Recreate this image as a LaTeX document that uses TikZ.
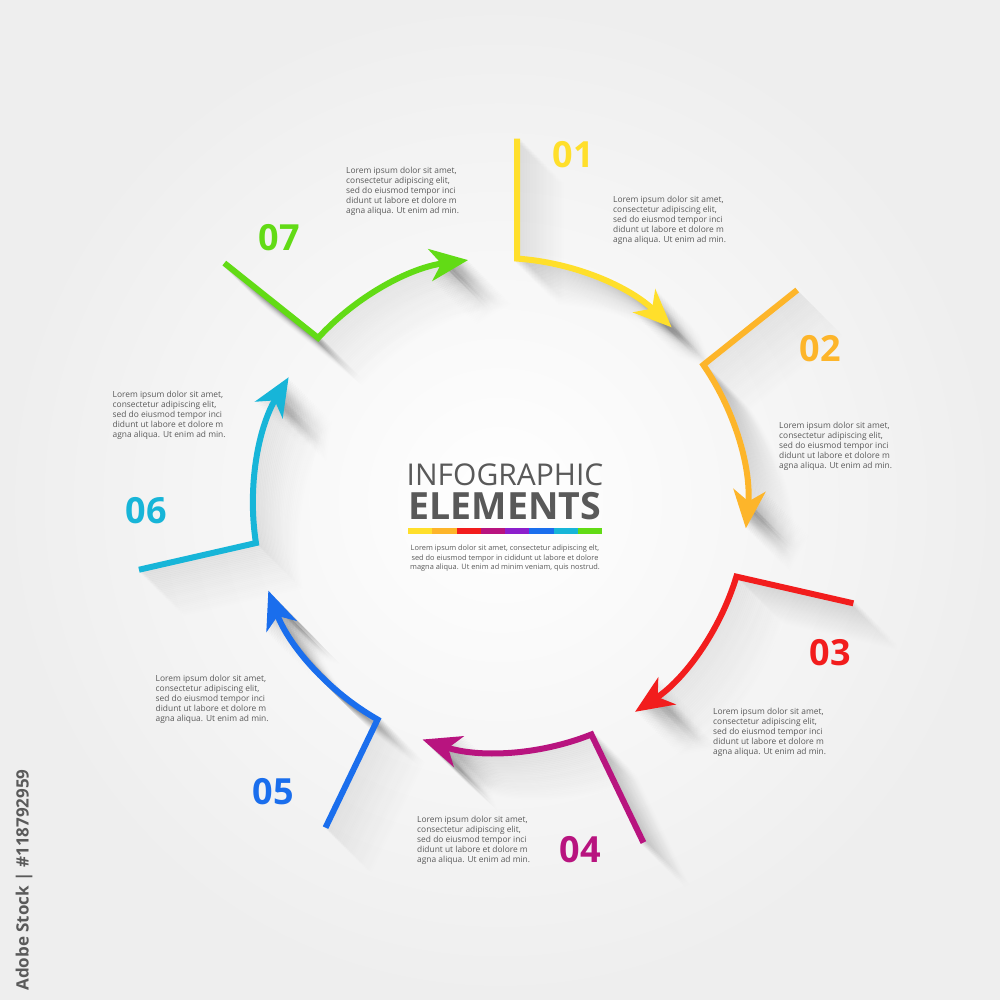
\documentclass[tikz,border=0pt]{standalone}
\usepackage{fontspec}
\setmainfont{Open Sans}
\usetikzlibrary{arrows.meta,calc}
\definecolor{cA}{HTML}{FFDF2B}
\definecolor{cB}{HTML}{FDB52A}
\definecolor{cC}{HTML}{F21D1D}
\definecolor{cD}{HTML}{B8147F}
\definecolor{cP}{HTML}{8C1FCC}
\definecolor{cE}{HTML}{1A6EED}
\definecolor{cF}{HTML}{17B5D8}
\definecolor{cG}{HTML}{62DB15}
\definecolor{txtgray}{HTML}{5A5A5A}
\definecolor{titlegray}{HTML}{595959}
\definecolor{bggray}{HTML}{EEEEEE}
\tikzset{
  arrowtip/.style={-{Stealth[length=38pt,width=32pt,inset=11pt]}},
  flowline/.style={line width=6pt, line join=miter, line cap=butt, arrowtip},
  numlabel/.style={font=\fontsize{36}{36}\selectfont\bfseries, inner sep=0pt},
  bodytext/.style={font=\fontsize{8.4}{10}\selectfont, text=txtgray, align=left, inner sep=0pt, anchor=north west}
}
\begin{document}
\begin{tikzpicture}[x=1pt,y=-1pt]
\useasboundingbox (0,0) rectangle (1000,1000);
\shade[inner color=white, outer color=bggray] (0,0) rectangle (1000,1000);
% geometry
\foreach \a [count=\i] in {86,34.5714,-16.8571,-68.2857,-119.7143,-171.1429,-222.5714}{
  \coordinate (c\i) at ({500+247*cos(\a)},{505-247*sin(\a)});
  \coordinate (e\i) at ({500+247*cos(\a)+120*cos(\a+4)},{505-247*sin(\a)-120*sin(\a+4)});
}
% long shadows of arrows
\foreach \a [count=\i] in {86,34.5714,-16.8571,-68.2857,-119.7143,-171.1429,-222.5714}{
  \foreach \k in {1.5,3,...,45}{
    \pgfmathsetmacro\op{0.024*(1-\k/48)}
    \draw[flowline, black, opacity=\op] ($(e\i)+(\k,\k)$) -- ($(c\i)+(\k,\k)$) arc[start angle={-\a}, end angle={-\a+40}, radius=247];
  }
}
% arrows
\foreach \a/\col [count=\i] in {86/cA,34.5714/cB,-16.8571/cC,-68.2857/cD,-119.7143/cE,-171.1429/cF,-222.5714/cG}{
  \draw[flowline, \col] (e\i) -- (c\i) arc[start angle={-\a}, end angle={-\a+40}, radius=247];
}
% numbers
\node[numlabel, text=cA] (n1) at (573.5,155) {01};
\node[numlabel, text=cB] (n2) at (820,349) {02};
\node[numlabel, text=cC] (n3) at (830,653) {03};
\node[numlabel, text=cD] (n4) at (580,850) {04};
\node[numlabel, text=cE] (n5) at (273.5,792) {05};
\node[numlabel, text=cF] (n6) at (146,511) {06};
\node[numlabel, text=cG] (n7) at (279,238) {07};
% body texts
\foreach \tx/\ty [count=\i] in {613/203,779/429,713/715,417/823,155.5/682,112.5/398,346/174}{
  \node[bodytext] (t\i) at (\tx,{\ty-6.6}) {Lorem ipsum dolor sit amet,\\consectetur adipiscing elit,\\sed do eiusmod tempor inci\\didunt ut labore et dolore m\\agna aliqua. Ut enim ad min.};
}
% centre
\node[font=\fontsize{30}{30}\selectfont, text=titlegray, anchor=base, inner sep=0pt] (title1) at (505,485) {INFOGRAPHIC};
\node[font=\fontsize{37.5}{37.5}\selectfont\bfseries, text=titlegray, anchor=base, inner sep=0pt] (title2) at (505,519.5) {ELEMENTS};
\foreach \col [count=\j from 0] in {cA,cB,cC,cD,cP,cE,cF,cG}{
  \fill[\col] ({408+\j*24.25},528) rectangle ({408+(\j+1)*24.25},534);
}
\node[font=\fontsize{7.4}{9.2}\selectfont, text=txtgray, align=center, inner sep=0pt, anchor=north] (ctext) at (505,545) {Lorem ipsum dolor sit amet, consectetur adipiscing elt,\\sed do eiusmod tempor in cididunt ut labore et dolore\\magna aliqua. Ut enim ad minim veniam, quis nostrud.};
% side credit
\node[rotate=90, font=\fontsize{17}{17}\selectfont\bfseries, text=txtgray, inner sep=0pt] (credit) at (24,880) {Adobe Stock | \#118792959};
\end{tikzpicture}
\end{document}
